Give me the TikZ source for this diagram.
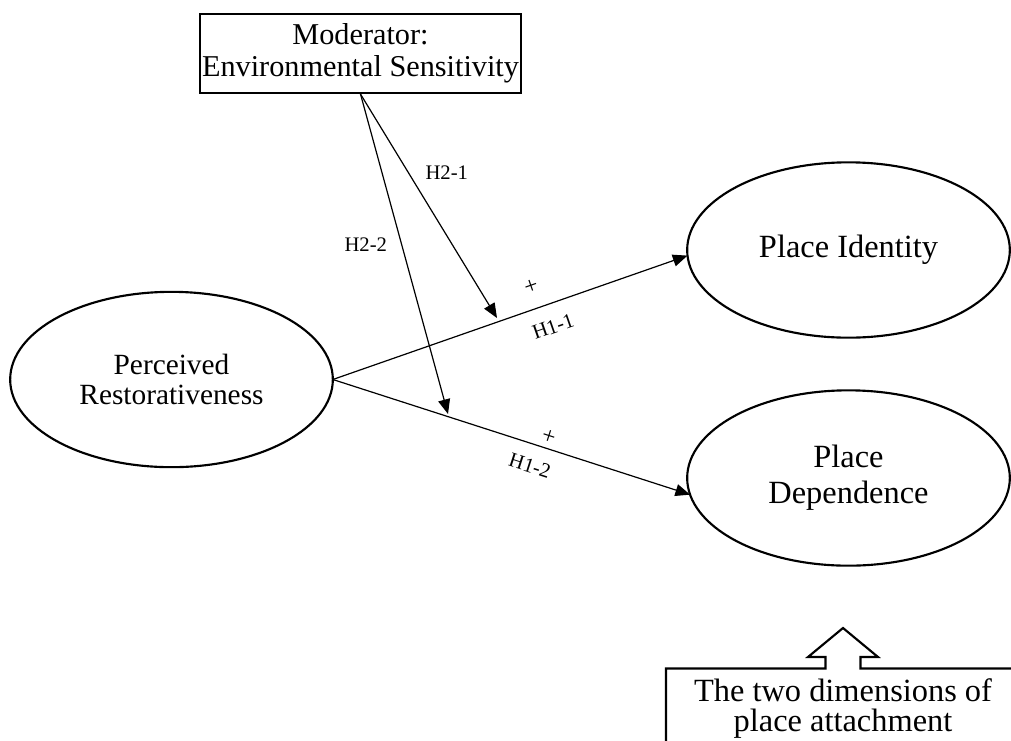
\documentclass[tikz,border=0pt]{standalone}
\usepackage{fontspec}
\setmainfont{Liberation Serif}
\usetikzlibrary{shapes.geometric,arrows.meta}

\begin{document}
\begin{tikzpicture}[x=0.75pt,y=-0.75pt,
  latent/.style={ellipse, draw, line width=1.6pt, inner sep=0pt, outer sep=0pt,
    minimum width=242pt, minimum height=131.5pt, align=center},
  link/.style={-{Triangle[length=11pt,width=9pt]}, line width=0.9pt},
  hyp/.style={font=\fontsize{15.5}{15.5}\selectfont, inner sep=0pt},
  sign/.style={font=\fontsize{18}{18}\selectfont, inner sep=0pt}]
\useasboundingbox (0,0) rectangle (1011,740);
\clip (0,0) rectangle (1011,740);
% Define the nodes
\node[draw, line width=1.6pt, minimum width=240.75pt, minimum height=59.25pt, inner sep=0pt,
  align=center, font=\fontsize{22.7}{24}\selectfont] at (360.5,53.5) (mod) {Moderator:\\Environmental Sensitivity};
\node[latent, font=\fontsize{22}{22.5}\selectfont] at (171.5,379.5) (pr) {Perceived\\Restorativeness};
\node[latent, font=\fontsize{24.3}{24}\selectfont] at (848.5,250) (pi) {Place Identity};
\node[latent, font=\fontsize{24.3}{27}\selectfont] at (848.5,478) (pd) {Place\\Dependence};
\node[align=center, inner sep=0pt, font=\fontsize{24.3}{22.5}\selectfont] at (843,709) (note) {The two dimensions of\\place attachment};
\coordinate (t1) at (497,318);
\coordinate (t2) at (448,414);
% Draw the paths
\draw[link] (pr.east) -- (pi.182)
  node[sign, pos=0.58, sloped, above=11.2pt] {+}
  node[hyp, pos=0.6, sloped, below=11.4pt] {H1-1};
\draw[link] (pr.east) -- (pd.186)
  node[sign, pos=0.594, sloped, above=3pt] {+}
  node[hyp, pos=0.57, sloped, below=10.6pt] {H1-2};
\draw[link] (mod.south) -- (t1) node[hyp, pos=0.35, right=12.5pt] {H2-1};
\draw[link] (mod.south) -- (t2) node[hyp, pos=0.47, left=10.5pt] {H2-2};
% Arrow up to the note
\draw[line width=1.6pt] (666,745) -- (666,668.5) -- (825.5,668.5) -- (825.5,657) -- (808,657)
  -- (843,628) -- (878,657) -- (860.5,657) -- (860.5,668.5) -- (1015,668.5);
\end{tikzpicture}
\end{document}
